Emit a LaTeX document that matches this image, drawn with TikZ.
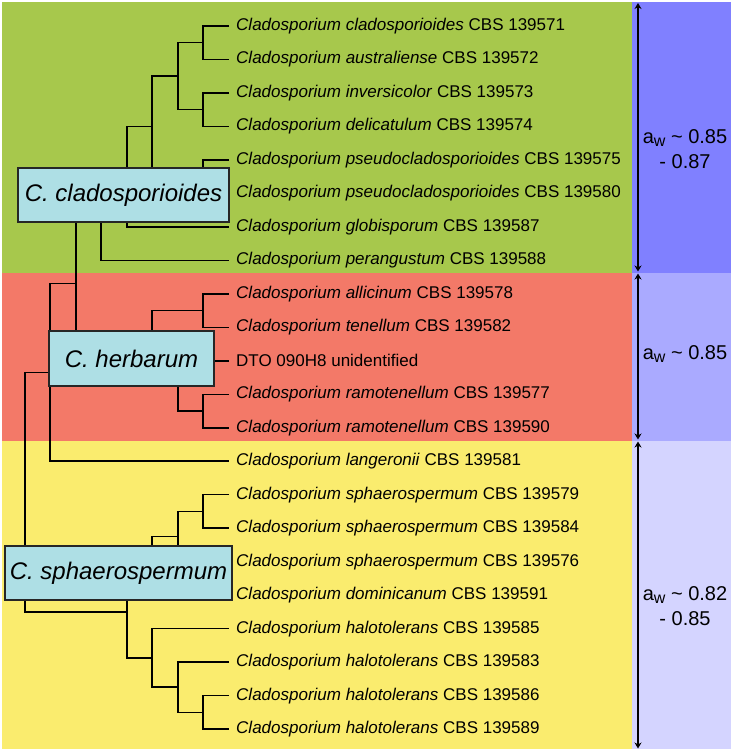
\documentclass[tikz,border=0pt]{standalone}
\usepackage{fontspec}
\setmainfont{Liberation Sans}
\usetikzlibrary{arrows.meta}
\definecolor{cgreen}{RGB}{167,200,76}
\definecolor{cred}{RGB}{243,121,104}
\definecolor{cyellow}{RGB}{250,236,110}
\definecolor{cbox}{RGB}{174,223,229}
\definecolor{blueA}{RGB}{128,128,255}
\definecolor{blueB}{RGB}{170,170,255}
\definecolor{blueC}{RGB}{212,212,255}
\newcommand{\aw}{a{\fontsize{16}{16}\selectfont\raisebox{-3pt}{w}}}
\begin{document}
\begin{tikzpicture}[x=1pt,y=-1pt,
  leaf/.style={anchor=west,inner xsep=7pt,inner ysep=0pt,font=\fontsize{17}{17}\selectfont},
  branch/.style={line width=1.5pt,black},
  clade/.style={draw=black!85,line width=1.5pt,fill=cbox,inner sep=0pt,font=\fontsize{24}{24}\selectfont\itshape},
  awrange/.style={line width=2.5pt,{Stealth[length=6pt,width=7pt]}-{Stealth[length=6pt,width=7pt]}},
  awlab/.style={align=center,font=\fontsize{20}{25}\selectfont}]
\useasboundingbox (0,0) rectangle (733,752);
\fill[white] (0,0) rectangle (733,752);
% backgrounds
\fill[cgreen] (2,2) rectangle (632,272.5);
\fill[cred] (2,272.5) rectangle (632,440.5);
\fill[cyellow] (2,440.5) rectangle (632,749);
\fill[blueA] (632,2) rectangle (731,272.5);
\fill[blueB] (632,272.5) rectangle (731,440.5);
\fill[blueC] (632,440.5) rectangle (731,749);
% leaves
\newcommand{\rw}[1]{{26+33.48*(#1)}}
\node[leaf] (l1) at (229,\rw{0}) {\textit{Cladosporium cladosporioides} CBS 139571};
\node[leaf] (l2) at (229,\rw{1}) {\textit{Cladosporium australiense} CBS 139572};
\node[leaf] (l3) at (229,\rw{2}) {\textit{Cladosporium inversicolor} CBS 139573};
\node[leaf] (l4) at (229,\rw{3}) {\textit{Cladosporium delicatulum} CBS 139574};
\node[leaf] (l5) at (229,\rw{4}) {\textit{Cladosporium pseudocladosporioides} CBS 139575};
\node[leaf] (l6) at (229,\rw{5}) {\textit{Cladosporium pseudocladosporioides} CBS 139580};
\node[leaf] (l7) at (229,\rw{6}) {\textit{Cladosporium globisporum} CBS 139587};
\node[leaf] (l8) at (229,\rw{7}) {\textit{Cladosporium perangustum} CBS 139588};
\node[leaf] (l9) at (229,\rw{8}) {\textit{Cladosporium allicinum} CBS 139578};
\node[leaf] (l10) at (229,\rw{9}) {\textit{Cladosporium tenellum} CBS 139582};
\node[leaf] (l11) at (229,\rw{10}) {DTO 090H8 unidentified};
\node[leaf] (l12) at (229,\rw{11}) {\textit{Cladosporium ramotenellum} CBS 139577};
\node[leaf] (l13) at (229,\rw{12}) {\textit{Cladosporium ramotenellum} CBS 139590};
\node[leaf] (l14) at (229,\rw{13}) {\textit{Cladosporium langeronii} CBS 139581};
\node[leaf] (l15) at (229,\rw{14}) {\textit{Cladosporium sphaerospermum} CBS 139579};
\node[leaf] (l16) at (229,\rw{15}) {\textit{Cladosporium sphaerospermum} CBS 139584};
\node[leaf] (l17) at (229,\rw{16}) {\textit{Cladosporium sphaerospermum} CBS 139576};
\node[leaf] (l18) at (229,\rw{17}) {\textit{Cladosporium dominicanum} CBS 139591};
\node[leaf] (l19) at (229,\rw{18}) {\textit{Cladosporium halotolerans} CBS 139585};
\node[leaf] (l20) at (229,\rw{19}) {\textit{Cladosporium halotolerans} CBS 139583};
\node[leaf] (l21) at (229,\rw{20}) {\textit{Cladosporium halotolerans} CBS 139586};
\node[leaf] (l22) at (229,\rw{21}) {\textit{Cladosporium halotolerans} CBS 139589};
% internal nodes
\coordinate (n12) at (203,\rw{0.5});
\coordinate (n34) at (203,\rw{2.5});
\coordinate (n1234) at (178,\rw{1.5});
\coordinate (n56) at (203,\rw{4.5});
\coordinate (na) at (152,\rw{3});
\coordinate (nb) at (127,\rw{4.5});
\coordinate (nc) at (101,\rw{5.75});
\coordinate (h12) at (203,\rw{8.5});
\coordinate (h45) at (203,\rw{11.5});
\coordinate (h345) at (178,\rw{10.75});
\coordinate (hh) at (152,\rw{9.625});
\coordinate (nd) at (76,\rw{7.6875});
\coordinate (ne) at (50,\rw{10.34375});
\coordinate (s12) at (203,\rw{14.5});
\coordinate (s123) at (178,\rw{15.25});
\coordinate (s1234) at (152,\rw{16.125});
\coordinate (t34) at (203,\rw{20.5});
\coordinate (t234) at (178,\rw{19.75});
\coordinate (t1234) at (152,\rw{18.875});
\coordinate (ss) at (127,\rw{17.5});
\coordinate (root) at (25,\rw{13.921875});
% branches
\draw[branch] (l1.west) -| (n12) |- (l2.west);
\draw[branch] (l3.west) -| (n34) |- (l4.west);
\draw[branch] (n12) -| (n1234) |- (n34);
\draw[branch] (l5.west) -| (n56) |- (l6.west);
\draw[branch] (n1234) -| (na) |- (n56);
\draw[branch] (na) -| (nb) |- (l7.west);
\draw[branch] (nb) -| (nc) |- (l8.west);
\draw[branch] (l9.west) -| (h12) |- (l10.west);
\draw[branch] (l12.west) -| (h45) |- (l13.west);
\draw[branch] (l11.west) -| (h345) |- (h45);
\draw[branch] (h12) -| (hh) |- (h345);
\draw[branch] (nc) -| (nd) |- (hh);
\draw[branch] (nd) -| (ne) |- (l14.west);
\draw[branch] (l15.west) -| (s12) |- (l16.west);
\draw[branch] (s12) -| (s123) |- (l17.west);
\draw[branch] (s123) -| (s1234) |- (l18.west);
\draw[branch] (l21.west) -| (t34) |- (l22.west);
\draw[branch] (l20.west) -| (t234) |- (t34);
\draw[branch] (l19.west) -| (t1234) |- (t234);
\draw[branch] (s1234) -| (ss) |- (t1234);
\draw[branch] (ne) -| (root) |- (ss);
% clade boxes
\node[clade,minimum width=211pt,minimum height=54pt] (bc) at (123.5,195) {C. cladosporioides};
\node[clade,minimum width=165pt,minimum height=55pt] (bh) at (131.5,358.5) {C. herbarum};
\node[clade,minimum width=227pt,minimum height=54pt] (bs) at (118.5,573) {C. sphaerospermum};
% ranges
\coordinate (a1) at (638,3);
\coordinate (a2) at (638,271.5);
\coordinate (a3) at (638,273.5);
\coordinate (a4) at (638,439.5);
\coordinate (a5) at (638,441.5);
\coordinate (a6) at (638,748.5);
\draw[awrange] (a1) -- (a2);
\draw[awrange] (a3) -- (a4);
\draw[awrange] (a5) -- (a6);
\node[awlab] (w1) at (685,149.5) {\aw{} \char`\~{} 0.85\\- 0.87};
\node[awlab] (w2) at (685,354) {\aw{} \char`\~{} 0.85};
\node[awlab] (w3) at (685,606.5) {\aw{} \char`\~{} 0.82\\- 0.85};
\end{tikzpicture}
\end{document}
